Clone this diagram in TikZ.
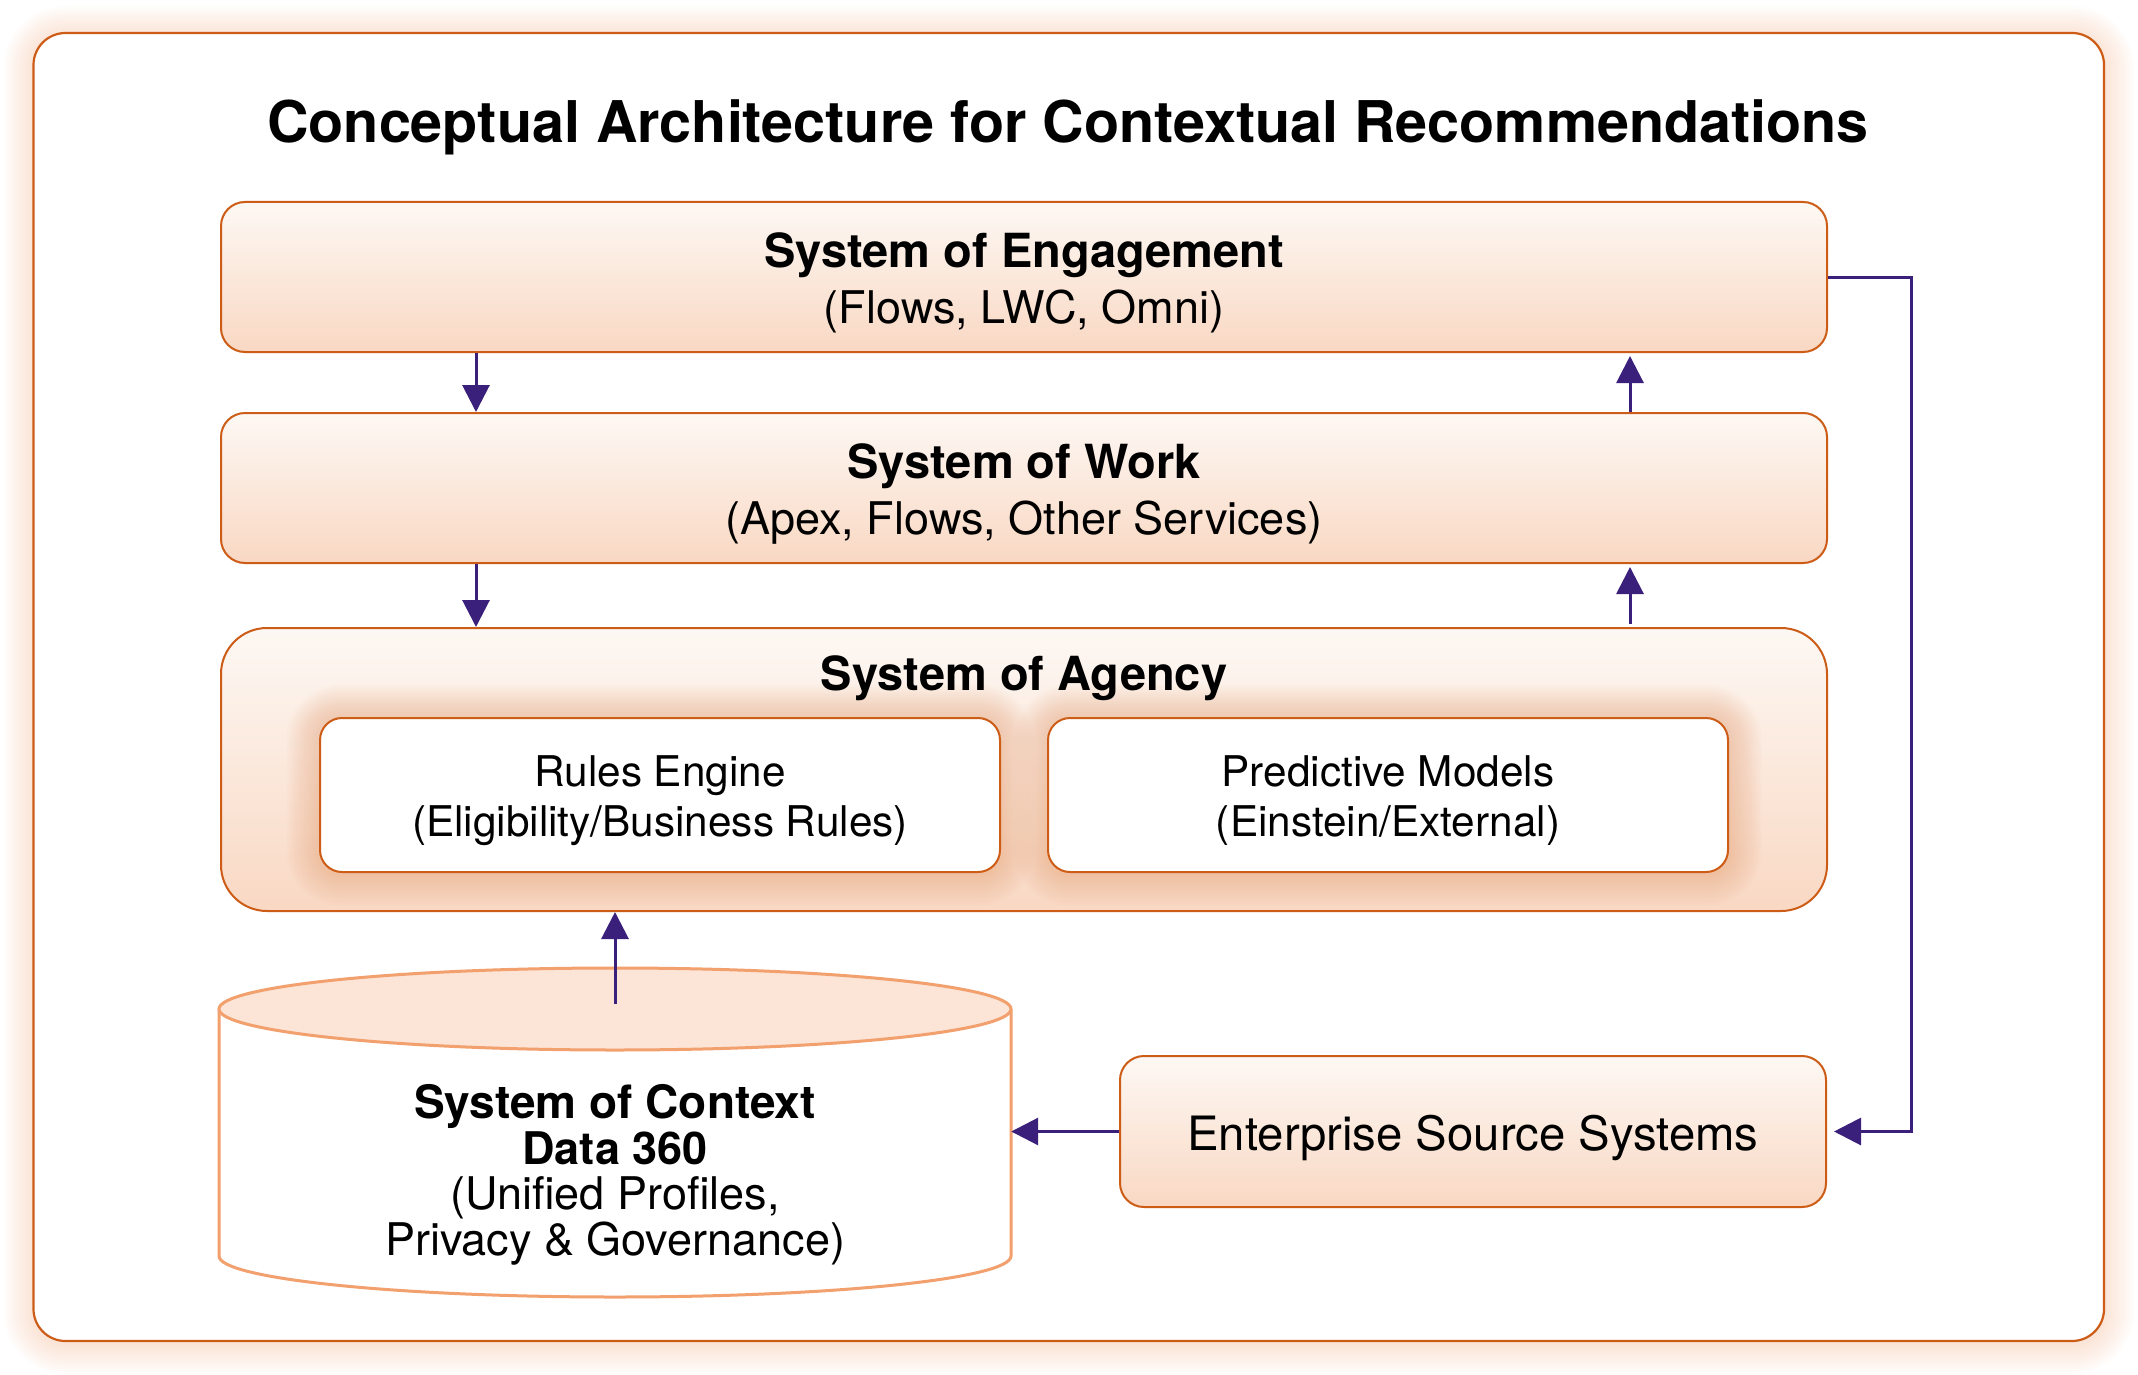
\documentclass[tikz,border=0pt]{standalone}
\usepackage{fontspec}
\setmainfont{TeX Gyre Heros}
\usetikzlibrary{arrows.meta,calc}
\definecolor{boxtop}{RGB}{253,248,244}
\definecolor{boxbot}{RGB}{249,216,195}
\definecolor{edgec}{RGB}{204,92,22}
\definecolor{arrowc}{RGB}{58,32,122}
\definecolor{cylline}{RGB}{242,160,110}
\definecolor{cyltop}{RGB}{252,228,214}
\definecolor{glowc}{RGB}{240,150,100}
\pgfdeclarelayer{bg}\pgfdeclarelayer{lower}\pgfdeclarelayer{glow}
\pgfsetlayers{bg,lower,glow,main}
\tikzset{
  layerbox/.style={draw=edgec, line width=2pt, top color=boxtop, bottom color=boxbot,
    inner sep=0pt, rounded corners=24pt, minimum width=1606pt, minimum height=150pt},
  innerbox/.style={draw=edgec, line width=2pt, fill=white, rounded corners=22pt,
    minimum width=680pt, minimum height=154pt, inner sep=0pt},
  boxtext/.style={align=center, inner sep=0pt, font=\fontsize{45}{56}\selectfont},
  innertext/.style={align=center, inner sep=0pt, font=\fontsize{42.3}{50}\selectfont},
  arr/.style={draw=arrowc, line width=3pt, -{Triangle[width=27pt,length=27pt]}},
  cylstyle/.style={draw=cylline, line width=3pt},
}
\begin{document}
\begin{tikzpicture}[x=1pt,y=-1pt]
\useasboundingbox (0,0) rectangle (2138,1375);

% outer frame with glow
\begin{pgfonlayer}{bg}
\foreach \i in {1,...,12}{
  \pgfmathsetmacro\rr{32+\i*2.5}\pgfmathsetmacro\dd{\i*2.5}
  \fill[glowc, opacity=0.025, rounded corners=\rr pt]
    ([shift={(-\dd pt,\dd pt-3pt)}]33.5,33) rectangle ([shift={(\dd pt,-\dd pt-3pt)}]2104,1341);
}
\draw[edgec, line width=2.2pt, fill=white, rounded corners=32pt] (33.5,33) rectangle (2104,1341);
\end{pgfonlayer}

\node (title) [anchor=base, font=\bfseries\fontsize{57.5}{60}\selectfont] at (1068,143)
  {Conceptual Architecture for Contextual Recommendations};

\node (soe) [layerbox] at (1024,277) {};
\node (soetext) [boxtext] at ([yshift=-6pt]soe.center)
  {{\bfseries\fontsize{47}{56}\selectfont System of Engagement}\\(Flows, LWC, Omni)};
\node (sow) [layerbox] at (1024,488) {};
\node (sowtext) [boxtext] at ([yshift=-6pt]sow.center)
  {{\bfseries\fontsize{47}{56}\selectfont System of Work}\\(Apex, Flows, Other Services)};

\begin{pgfonlayer}{lower}
\node (soa) [layerbox, minimum height=283pt, rounded corners=46pt] at (1024,769.5) {};
\end{pgfonlayer}
\node (soatitle) [anchor=base, font=\bfseries\fontsize{47}{56}\selectfont] at (1024,690) {System of Agency};

\node (rules) [innerbox] at (660,795) {};
\node (rulestext) [innertext] at ([yshift=-6pt]rules.center) {Rules Engine\\(Eligibility/Business Rules)};
\node (pred) [innerbox] at (1388,795) {};
\node (predtext) [innertext] at ([yshift=-6pt]pred.center) {Predictive Models\\(Einstein/External)};

\begin{pgfonlayer}{glow}
\foreach \n in {rules,pred}{
  \foreach \i in {1,...,13}{
    \pgfmathsetmacro\rr{22+\i*2.5}\pgfmathsetmacro\dd{\i*2.5}
    \fill[glowc, opacity=0.032, rounded corners=\rr pt]
      ([shift={(-\dd pt,-\dd pt)}]\n.south west) rectangle ([shift={(\dd pt,\dd pt)}]\n.north east);
  }
}
\end{pgfonlayer}

% System of Context cylinder
\node (ctx) [minimum width=792pt, minimum height=329pt, inner sep=0pt] at (615,1132.5) {};
\filldraw[cylstyle, fill=white] (219,1009) -- (219,1256)
  arc[start angle=180, end angle=360, x radius=396pt, y radius=41pt] -- (1011,1009);
\filldraw[cylstyle, fill=cyltop] (615,1009) ellipse[x radius=396pt, y radius=41pt];
\node (ctxtext) [align=center, font=\fontsize{45}{45.5}\selectfont] at (615,1175)
  {\bfseries\fontsize{46}{45.5}\selectfont System of Context\\\bfseries Data 360\\\mdseries (Unified Profiles,\\Privacy \& Governance)};
\coordinate (ctxtop) at (615,1004);

\node (ess) [layerbox, minimum width=706pt, minimum height=151pt] at (1473,1131.5) {};
\node (esstext) [boxtext, font=\fontsize{47.3}{56}\selectfont] at ([yshift=-6pt]ess.center)
  {Enterprise Source Systems};

% connectors
\draw[arr] ([xshift=256pt]soe.south west) -- ([xshift=256pt]sow.north west);
\draw[arr] ([xshift=256pt]sow.south west) -- ([xshift=256pt]soa.north west);
\draw[arr, shorten >=3pt] ([xshift=-198pt]sow.north east) -- ([xshift=-198pt]soe.south east);
\draw[arr, shorten >=3pt, shorten <=3pt] ([xshift=-198pt]soa.north east) -- ([xshift=-198pt]sow.south east);
\draw[arr] (ctxtop) -- (ctxtop |- soa.south);
\draw[arr] (soe.east) -- ++(83,0) |- ([xshift=7pt]ess.east);
\draw[arr] (ess.west) -- (ess.west -| ctx.east);
\end{tikzpicture}
\end{document}
